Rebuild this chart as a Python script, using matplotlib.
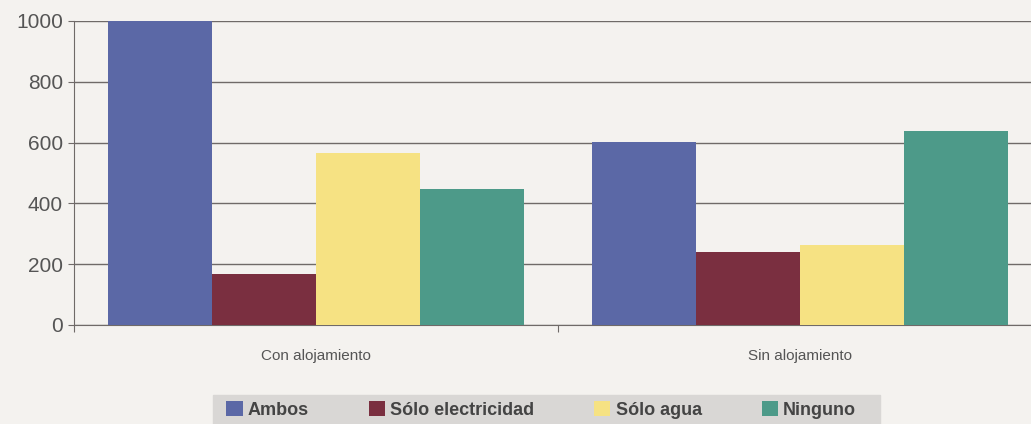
import matplotlib.pyplot as plt
import matplotlib.patches as mpatches
import numpy as np

plt.rcParams['font.family'] = ['Liberation Sans', 'DejaVu Sans']

categories = ['Con alojamiento', 'Sin alojamiento']
series = ['Ambos', 'Sólo electricidad', 'Sólo agua', 'Ninguno']
ambos = [1000, 603]
solo_elec = [168, 239]
solo_agua = [566, 263]
ninguno = [447, 639]
values = [ambos, solo_elec, solo_agua, ninguno]
colors = ['#5b68a6', '#7a2f40', '#f6e283', '#4d9a89']

bg = '#f4f2ef'
fig = plt.figure(figsize=(10.31, 4.24), dpi=100, facecolor=bg)
ax = fig.add_axes([0.0718, 0.2335, 0.9282, 0.717])
ax.set_facecolor(bg)

x = np.arange(len(categories))
w = 0.215
for i, (name, vals) in enumerate(zip(series, values)):
    ax.bar(x + (i - 1.5) * w, vals, width=w, color=colors[i], label=name, zorder=3)

ax.set_ylim(0, 1000)
ax.set_xlim(-0.5, 1.477)
ax.set_yticks(range(0, 1001, 200))
ax.yaxis.grid(True, color='#6f6a68', linewidth=1.0, zorder=0)
ax.set_xticks([-0.5, 0.5])
ax.set_xticklabels([])
ax.set_xticks(x, minor=True)
ax.set_xticklabels(categories, minor=True, fontsize=11, color='#555555')
ax.tick_params(axis='x', which='minor', length=0, pad=17)
ax.tick_params(axis='x', which='major', length=5, color='#6f6a68')
ax.tick_params(axis='y', length=4, color='#6f6a68', labelsize=15, labelcolor='#555555', pad=4)
for s in ['top', 'right']:
    ax.spines[s].set_visible(False)
for s in ['left', 'bottom']:
    ax.spines[s].set_color('#6f6a68')

# grey band behind the legend
fig.patches.append(mpatches.Rectangle((213 / 1031, 0), 667 / 1031, 29 / 424,
                                      transform=fig.transFigure, color='#d9d7d5', zorder=0))

leg = fig.legend(loc='upper center', bbox_to_anchor=(0.525, 0.068), ncol=4, frameon=False,
                 prop={'weight': 'bold', 'size': 13}, handlelength=0.9,
                 handleheight=0.9, handletextpad=0.3, columnspacing=3.3,
                 borderpad=0.35, borderaxespad=0, labelcolor='#444444')

fig.savefig('out.png', dpi=100, facecolor=bg)
